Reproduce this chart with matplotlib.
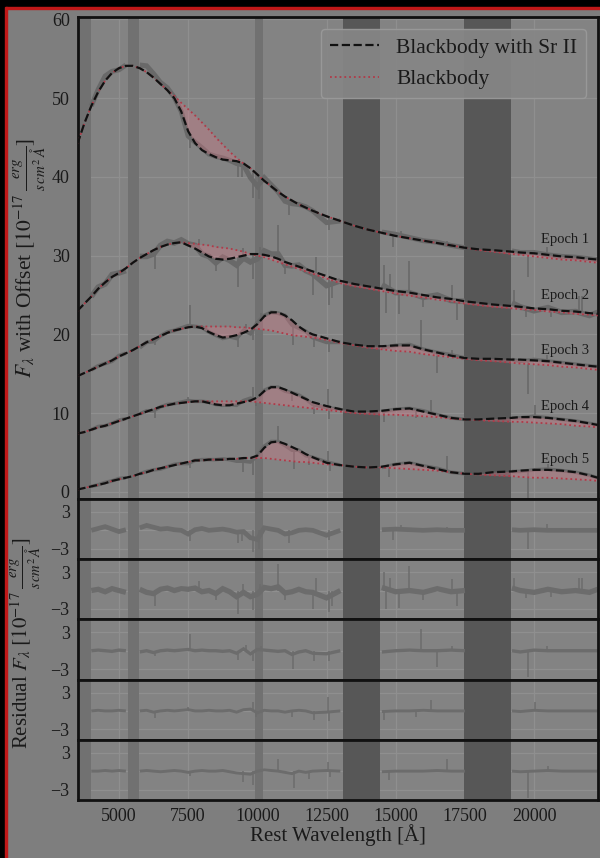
import numpy as np
import matplotlib.pyplot as plt
from matplotlib.patches import Rectangle

plt.rcParams['font.family'] = ['Liberation Serif', 'DejaVu Serif']
plt.rcParams['mathtext.fontset'] = 'stix'

nan = np.nan

wave = [3500, 3750, 4000, 4250, 4500, 4750, 5000, 5250, 5500, 5750,
        6000, 6250, 6500, 6750, 7000, 7250, 7500, 7750, 8000, 8250,
        8500, 8750, 9000, 9250, 9500, 9750, 10000, 10250, 10500, 10750,
        11000, 11250, 11500, 11750, 12000, 12500, 13000, 13500, 14000, 14500,
        15000, 15500, 16000, 16500, 17000, 17500, 18000, 18500, 19200, 19500,
        20000, 20500, 21000, 21500, 22000, 22300]

# ---- Epoch 1 ----
bb_e1 = [44.2, 46.8, 49.0, 50.8, 52.2, 53.2, 53.8, 54.1, 54.1, 53.8,
         53.3, 52.6, 51.8, 51.0, 50.3, 49.4, 48.6, 47.8, 46.9, 46.0,
         45.0, 44.1, 43.2, 42.4, 41.7, 41.1, 40.3, 39.5, 38.8, 38.1,
         37.5, 37.0, 36.5, 36.1, 35.7, 35.0, 34.4, 33.8, 33.3, 32.9,
         32.5, 32.2, 31.9, 31.6, 31.3, 31.0, 30.7, 30.5, 30.2, 30.1,
         29.9, 29.7, 29.5, 29.4, 29.2, 29.1]
sr_e1 = [44.2, 46.8, 49.0, 50.8, 52.2, 53.2, 53.8, 54.1, 54.1, 53.8,
         53.3, 52.6, 51.8, 51.0, 50.0, 48.3, 45.8, 44.3, 43.4, 42.9,
         42.5, 42.2, 42.1, 42.0, 41.7, 41.1, 40.3, 39.5, 38.8, 38.1,
         37.5, 37.0, 36.5, 36.1, 35.7, 35.0, 34.4, 33.8, 33.3, 32.9,
         32.5, 32.2, 31.9, 31.6, 31.3, 31.0, 30.8, 30.7, 30.5, 30.4,
         30.3, 30.1, 29.9, 29.8, 29.6, 29.5]
res_e1 = [nan, nan, 0.0, 0.3, 0.6, 0.2, -0.2, 0.1, nan, 0.4,
          0.8, 0.5, 0.2, 0.3, 0.1, 0.0, -0.6, 0.1, 0.3, 0.0,
          0.1, 0.2, 0.0, -0.3, -0.2, -1.2, -1.5, 0.4, 0.2, 0.0,
          -0.6, -0.4, 0.0, 0.1, 0.0, -0.8, 0.0, nan, nan, 0.1,
          0.2, 0.1, 0.0, 0.1, 0.0, 0.0, nan, nan, 0.1, 0.0,
          0.1, 0.0, 0.0, 0.0, 0.0, 0.0]
spike_w_e1 = [7560, 9300, 9450, 9840, 10050, 11160, 12600, 14910, 15200, 16850, 19770, 20450]
spike_v_e1 = [-1.8, -2.0, -1.8, -3.5, -3.0, -2.0, -1.6, -1.5, 0.8, 0.5, -3.0, 1.0]

# ---- Epoch 2 ----
bb_e2 = [23.0, 23.9, 24.8, 25.8, 26.6, 27.3, 27.8, 28.4, 29.1, 29.7,
         30.2, 30.7, 31.1, 31.4, 31.6, 31.7, 31.6, 31.5, 31.4, 31.3,
         31.1, 31.0, 30.9, 30.7, 30.5, 30.2, 30.0, 29.8, 29.5, 29.2,
         28.9, 28.6, 28.3, 28.0, 27.7, 27.1, 26.5, 26.1, 25.8, 25.5,
         25.2, 24.9, 24.7, 24.4, 24.2, 23.9, 23.7, 23.5, 23.3, 23.2,
         23.1, 22.9, 22.8, 22.6, 22.5, 22.4]
sr_e2 = [23.0, 23.9, 24.8, 25.8, 26.6, 27.3, 27.8, 28.4, 29.1, 29.7,
         30.2, 30.7, 31.1, 31.4, 31.6, 31.7, 31.3, 30.9, 30.4, 29.9,
         29.6, 29.5, 29.6, 29.8, 30.0, 30.2, 30.2, 30.1, 29.9, 29.6,
         29.2, 28.9, 28.6, 28.3, 28.0, 27.4, 26.8, 26.4, 26.1, 25.8,
         25.5, 25.3, 25.0, 24.7, 24.5, 24.2, 24.0, 23.8, 23.6, 23.5,
         23.3, 23.2, 23.0, 22.9, 22.7, 22.6]
res_e2 = [nan, nan, 0.0, 0.2, -0.2, 0.3, 0.0, -0.3, nan, 0.2,
          -0.3, -0.5, 0.2, 0.4, 0.0, 0.3, 0.2, 0.4, -0.2, 0.0,
          -0.5, 0.3, -0.2, -1.0, -0.3, -1.0, -0.6, 0.5, 0.3, 0.6,
          -0.4, -0.2, 0.2, -0.2, -0.3, -1.2, 0.0, nan, nan, 0.5,
          -0.2, 0.0, -0.3, 0.3, -0.2, 0.0, nan, nan, 0.4, 0.0,
          -0.3, 0.2, -0.2, 0.0, -0.3, 0.2]
spike_w_e2 = [6300, 7900, 8500, 9300, 9500, 9850, 10100, 10740, 11000, 12000, 12120, 12600,
              12700, 14580, 14650, 14800, 15120, 15480, 16000, 17040, 17220, 19260, 19700,
              20600, 21620, 21720]
spike_v_e2 = [-2.5, 1.5, -1.5, -3.8, 1.0, -3.2, 1.0, 4.3, -1.5, -3.0, 2.0, -3.5,
              -2.5, 3.0, -3.0, 2.0, -2.8, 4.0, -1.5, 1.8, -2.5, 2.0, -1.2,
              -1.0, 2.0, 2.0]

# ---- Epoch 3 ----
bb_e3 = [14.7, 15.1, 15.5, 15.9, 16.3, 16.7, 17.2, 17.6, 18.0, 18.5,
         19.0, 19.4, 19.8, 20.2, 20.5, 20.7, 20.9, 21.0, 21.0, 21.0,
         21.0, 21.0, 21.0, 20.9, 20.9, 20.8, 20.7, 20.6, 20.5, 20.3,
         20.1, 19.9, 19.8, 19.7, 19.6, 19.3, 18.9, 18.6, 18.3, 18.1,
         17.9, 17.8, 17.5, 17.3, 17.1, 16.9, 16.7, 16.6, 16.4, 16.3,
         16.2, 16.1, 15.9, 15.8, 15.6, 15.5]
sr_e3 = [14.7, 15.1, 15.5, 15.9, 16.3, 16.7, 17.2, 17.6, 18.0, 18.5,
         19.0, 19.4, 19.8, 20.2, 20.5, 20.7, 20.9, 21.0, 20.8, 20.3,
         19.9, 19.6, 19.7, 19.9, 20.2, 20.6, 21.3, 22.3, 22.8, 22.8,
         22.4, 21.8, 21.0, 20.4, 20.0, 19.5, 19.0, 18.7, 18.5, 18.5,
         18.6, 18.6, 18.1, 17.7, 17.3, 17.0, 16.9, 16.9, 16.8, 16.8,
         16.7, 16.6, 16.4, 16.2, 16.0, 15.9]
res_e3 = [nan, nan, 0.0, 0.1, 0.0, -0.1, 0.1, 0.0, nan, -0.2,
          0.0, -0.3, 0.0, 0.1, 0.0, 0.1, 0.2, 0.0, 0.1, 0.0,
          0.0, -0.1, 0.0, -0.4, 0.3, -0.5, 0.2, 0.1, 0.0, -0.1,
          0.0, -0.6, -0.2, 0.0, -0.4, -0.5, 0.0, nan, nan, -0.2,
          0.0, 0.1, 0.0, 0.0, 0.1, 0.0, nan, nan, 0.0, -0.2,
          0.1, 0.0, 0.0, 0.0, 0.0, 0.0]
spike_w_e3 = [6300, 7560, 9300, 9600, 9840, 10150, 11280, 12060, 12600, 15900, 16500, 17040, 19770, 20450]
spike_v_e3 = [-0.8, 2.8, -1.5, 1.0, -1.6, 0.8, -3.0, -1.6, -1.6, 3.6, -2.6, 0.8, -4.3, 0.8]

# ---- Epoch 4 ----
bb_e4 = [7.4, 7.6, 7.9, 8.2, 8.4, 8.7, 9.0, 9.3, 9.6, 9.9,
         10.2, 10.5, 10.8, 11.0, 11.2, 11.3, 11.4, 11.5, 11.5, 11.5,
         11.5, 11.5, 11.5, 11.5, 11.5, 11.5, 11.4, 11.3, 11.2, 11.1,
         11.0, 10.9, 10.8, 10.7, 10.6, 10.4, 10.2, 10.0, 9.9, 9.8,
         9.8, 9.7, 9.6, 9.5, 9.3, 9.2, 9.1, 9.0, 8.9, 8.9,
         8.8, 8.7, 8.6, 8.4, 8.3, 8.2]
sr_e4 = [7.4, 7.6, 7.9, 8.2, 8.4, 8.7, 9.0, 9.3, 9.6, 9.9,
         10.2, 10.5, 10.8, 11.0, 11.2, 11.3, 11.4, 11.5, 11.5, 11.3,
         11.1, 11.0, 11.0, 11.2, 11.4, 11.6, 12.0, 12.8, 13.3, 13.3,
         13.0, 12.6, 12.2, 11.8, 11.4, 10.9, 10.5, 10.2, 10.2, 10.3,
         10.5, 10.6, 10.2, 9.8, 9.4, 9.2, 9.2, 9.3, 9.4, 9.5,
         9.5, 9.4, 9.2, 9.0, 8.7, 8.5]
res_e4 = [nan, nan, 0.0, 0.1, 0.0, 0.0, 0.1, 0.0, nan, 0.0,
          0.1, -0.2, 0.0, 0.1, 0.0, 0.1, 0.2, 0.0, 0.0, 0.1,
          0.0, 0.0, 0.1, -0.2, 0.2, 0.3, -0.3, 0.1, 0.0, 0.0,
          -0.2, 0.0, 0.1, 0.0, -0.3, -0.2, 0.0, nan, nan, -0.1,
          0.0, 0.0, 0.1, 0.0, 0.0, 0.0, nan, nan, 0.0, -0.1,
          0.1, 0.0, 0.0, 0.0, 0.0, 0.0]
spike_w_e4 = [6300, 7500, 9850, 9950, 11250, 12060, 12540, 12600, 14580, 15720, 16260, 20040]
spike_v_e4 = [-1.2, 0.6, 1.5, -1.0, -1.0, -1.5, 2.2, -1.6, -1.4, -1.0, 1.7, 1.5]

# ---- Epoch 5 ----
bb_e5 = [0.3, 0.5, 0.7, 0.9, 1.1, 1.4, 1.6, 1.8, 2.0, 2.3,
         2.5, 2.8, 3.0, 3.2, 3.4, 3.6, 3.8, 4.0, 4.0, 4.1,
         4.1, 4.1, 4.2, 4.2, 4.3, 4.3, 4.3, 4.3, 4.2, 4.1,
         4.0, 3.9, 3.8, 3.8, 3.7, 3.5, 3.4, 3.2, 3.1, 3.1,
         3.0, 2.9, 2.8, 2.7, 2.5, 2.3, 2.2, 2.1, 2.0, 1.9,
         1.8, 1.8, 1.7, 1.6, 1.5, 1.4]
sr_e5 = [0.3, 0.5, 0.7, 0.9, 1.1, 1.4, 1.6, 1.8, 2.0, 2.3,
         2.5, 2.8, 3.0, 3.2, 3.4, 3.6, 3.8, 4.0, 4.0, 4.1,
         4.1, 4.1, 4.2, 4.2, 4.3, 4.3, 4.6, 5.6, 6.3, 6.4,
         6.1, 5.7, 5.3, 4.8, 4.4, 3.7, 3.4, 3.2, 3.1, 3.2,
         3.5, 3.7, 3.3, 2.9, 2.5, 2.3, 2.3, 2.5, 2.6, 2.7,
         2.8, 2.8, 2.7, 2.5, 2.1, 1.8]
res_e5 = [nan, nan, 0.0, 0.0, 0.1, 0.0, 0.1, 0.0, nan, 0.0,
          0.1, 0.0, -0.1, 0.0, 0.1, 0.0, -0.2, 0.0, 0.1, 0.0,
          0.0, 0.1, -0.1, -0.3, -0.4, -0.5, 0.0, 0.2, 0.1, 0.0,
          -0.2, -0.4, 0.0, -0.2, 0.0, 0.1, 0.0, nan, nan, -0.1,
          0.0, 0.0, 0.0, 0.1, 0.0, 0.0, nan, nan, 0.0, -0.1,
          0.0, 0.1, 0.0, 0.0, 0.0, 0.0]
spike_w_e5 = [7560, 9480, 9840, 10740, 11340, 11880, 12560, 12640, 14760, 16850, 19770, 20500]
spike_v_e5 = [-0.8, -1.8, -2.3, 2.0, -2.7, -1.2, 1.5, -1.0, -1.5, 2.0, -4.3, 0.8]

epoch_names = ['Epoch 1', 'Epoch 2', 'Epoch 3', 'Epoch 4', 'Epoch 5']
epoch_label_y = [32.0, 25.0, 18.0, 10.9, 4.1]

# masked regions (telluric / detector gaps)
light_bands = [(3500, 4000), (5330, 5720), (9930, 10200)]
dark_bands = [(13080, 14420), (17480, 19150)]

xticks = [5000, 7500, 10000, 12500, 15000, 17500, 20000]

epochs = [
    (bb_e1, sr_e1, res_e1, spike_w_e1, spike_v_e1),
    (bb_e2, sr_e2, res_e2, spike_w_e2, spike_v_e2),
    (bb_e3, sr_e3, res_e3, spike_w_e3, spike_v_e3),
    (bb_e4, sr_e4, res_e4, spike_w_e4, spike_v_e4),
    (bb_e5, sr_e5, res_e5, spike_w_e5, spike_v_e5),
]

# colours
FIG_BG = '#7e7e7e'
AX_BG = '#838383'
GRID = '#8f8f8f'
SPEC = '#696969'
RES = '#6c6c6c'
LIGHT_BAND = '#717171'
DARK_BAND = '#575757'
RED = '#b03a48'
TXT = '#1a1a1a'

obs_lw = [3.6, 4.0, 2.8, 2.6, 2.6]
res_lw = [3.4, 3.8, 2.4, 2.1, 2.1]

fig = plt.figure(figsize=(6, 8.58), dpi=100, facecolor=FIG_BG)

left, width = 78 / 600, 520 / 600
main_bottom, main_top = 1 - 499 / 858, 1 - 17 / 858
res_bottom = 1 - 800 / 858
res_h = (main_bottom - res_bottom) / 5

ax = fig.add_axes([left, main_bottom, width, main_top - main_bottom])
res_axes = [fig.add_axes([left, main_bottom - (i + 1) * res_h, width, res_h], sharex=ax)
            for i in range(5)]


def style(a):
    a.set_facecolor(AX_BG)
    for s in a.spines.values():
        s.set_linewidth(2.0)
        s.set_color('#111111')
    a.grid(True, color=GRID, lw=0.9)
    a.set_axisbelow(True)
    a.tick_params(length=0, labelsize=13, colors=TXT, pad=6)
    for lo, hi in light_bands:
        a.axvspan(lo, hi, color=LIGHT_BAND, lw=0, zorder=0.8)
    for lo, hi in dark_bands:
        a.axvspan(lo, hi, color=DARK_BAND, lw=0, zorder=0.8)


w = np.array(wave, dtype=float)

# main panel
style(ax)
for k, (bb, sr, res, sw, sv) in enumerate(epochs):
    bb = np.array(bb)
    sr = np.array(sr)
    res = np.array(res)
    ax.plot(w, sr + res, color=SPEC, lw=obs_lw[k], solid_joinstyle='miter',
            solid_capstyle='butt', zorder=2)
    base = np.interp(sw, w, sr)
    ax.vlines(sw, base, base + np.array(sv), color=SPEC, lw=1.2, zorder=2)
    ax.fill_between(w, bb, sr, color='#d87888', alpha=0.35, lw=0, zorder=2.5)
    ax.plot(w, bb, ':', color=RED, lw=1.3, zorder=3,
            label='Blackbody' if k == 0 else None)
    ax.plot(w, sr, '--', color='#111111', lw=1.6, zorder=4,
            label='Blackbody with Sr II' if k == 0 else None)
    ax.text(21980, epoch_label_y[k], epoch_names[k], ha='right', va='center',
            fontsize=10.5, color=TXT, zorder=5)

ax.set_xlim(3520, 22310)
ax.set_ylim(-0.9, 60.3)
ax.set_yticks([0, 10, 20, 30, 40, 50, 60])
ax.set_xticks(xticks)
ax.tick_params(labelbottom=False)

handles, labels = ax.get_legend_handles_labels()
leg = ax.legend(handles[::-1], labels[::-1], loc='upper right', fontsize=15.5,
                borderaxespad=0.55, facecolor='#868686', edgecolor='#9a9a9a',
                framealpha=0.92, handlelength=2.3, labelspacing=0.55)
for t in leg.get_texts():
    t.set_color(TXT)

# residual panels
for k, (bb, sr, res, sw, sv) in enumerate(epochs):
    r = res_axes[k]
    style(r)
    r.plot(w, res, color=RES, lw=res_lw[k], solid_joinstyle='miter',
           solid_capstyle='butt', zorder=2)
    r.vlines(sw, 0, sv, color=RES, lw=1.1, zorder=2)
    r.set_ylim(-4.7, 5.1)
    r.set_yticks([-3, 0, 3])
    r.set_yticklabels(['\u22123', '', '3'])
    r.set_xticks(xticks)
    if k < 4:
        r.tick_params(labelbottom=False)
res_axes[-1].set_xticklabels([str(t) for t in xticks])

# axis labels
fig.text(30 / 600, (main_bottom + main_top) / 2,
         r'$F_\lambda$ with Offset $[10^{-17}\,\frac{erg}{s\,cm^2\,\AA}]$',
         rotation=90, ha='center', va='center', fontsize=15.5, color=TXT)
fig.text(26 / 600, 1 - 643 / 858,
         r'Residual $F_\lambda$ $[10^{-17}\,\frac{erg}{s\,cm^2\,\AA}]$',
         rotation=90, ha='center', va='center', fontsize=15, color=TXT)
fig.text(left + width / 2, 1 - 835 / 858, 'Rest Wavelength [\u00c5]',
         ha='center', va='center', fontsize=15, color=TXT)

# screen capture edges
fig.patches.append(Rectangle((0, 1 - 7 / 858), 1, 7 / 858, transform=fig.transFigure,
                             color='black', zorder=10))
fig.patches.append(Rectangle((0, 1 - 9 / 858), 1, 2 / 858, transform=fig.transFigure,
                             color='#c01818', zorder=10))
fig.patches.append(Rectangle((0, 0), 5 / 600, 1, transform=fig.transFigure,
                             color='black', zorder=10))
fig.patches.append(Rectangle((5 / 600, 0), 2 / 600, 1 - 7 / 858, transform=fig.transFigure,
                             color='#c01818', zorder=10))

fig.savefig('out.png', dpi=100, facecolor=FIG_BG)
